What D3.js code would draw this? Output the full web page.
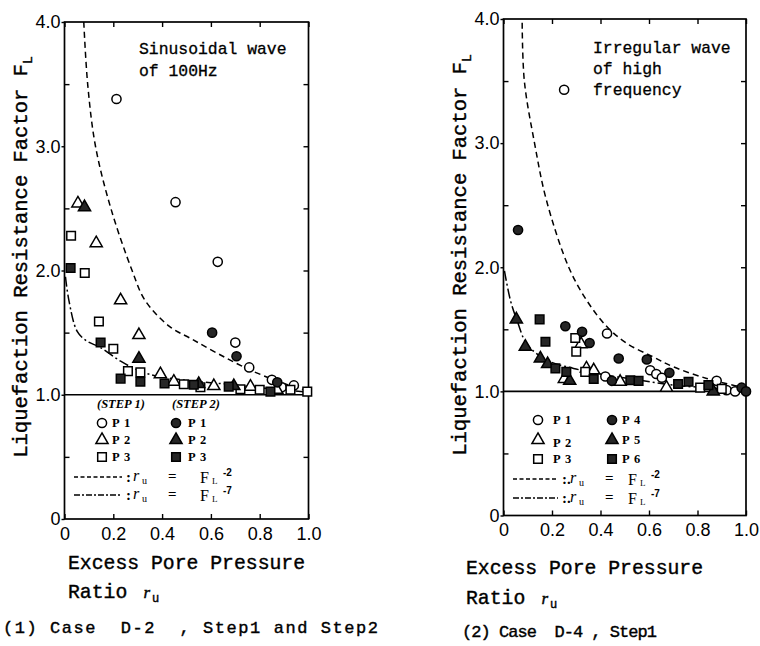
<!DOCTYPE html>
<html><head><meta charset="utf-8">
<script src="https://cdn.jsdelivr.net/npm/d3@7"></script>
<style>body{margin:0;background:#fff} svg{display:block}</style>
</head><body>
<svg id="chart" width="760" height="646"></svg>
<script>
// ---------- tick labels ----------
const xTicks = [0, 0.2, 0.4, 0.6, 0.8, 1.0];
const xTickLabels = ["0", "0.2", "0.4", "0.6", "0.8", "1.0"];
const yTicks = [0, 1, 2, 3, 4];
const yTickLabels = ["0", "1.0", "2.0", "3.0", "4.0"];
const yMinorTicks = [0.5, 1.5, 2.5, 3.5];

// ---------- Case D-2 (left) : [ru, FL] ----------
const d2Step1P1 = [[0.213,3.38],[0.455,2.55],[0.628,2.07],[0.70,1.42],[0.757,1.22],[0.85,1.12],[0.94,1.075],[0.89,1.06]];
const d2Step1P2 = [[0.055,2.54],[0.13,2.22],[0.23,1.76],[0.305,1.48],[0.393,1.165],[0.448,1.105],[0.612,1.07],[0.762,1.065],[0.87,1.04]];
const d2Step1P3 = [[0.027,2.28],[0.083,1.98],[0.141,1.59],[0.20,1.37],[0.26,1.19],[0.311,1.18],[0.489,1.085],[0.557,1.06],[0.721,1.044],[0.80,1.04],[0.926,1.04],[0.995,1.025]];
const d2Step2P1 = [[0.605,1.50],[0.705,1.31],[0.872,1.10]];
const d2Step2P2 = [[0.082,2.51],[0.305,1.29],[0.55,1.087],[0.694,1.07]];
const d2Step2P3 = [[0.025,2.02],[0.148,1.42],[0.23,1.13],[0.311,1.105],[0.41,1.09],[0.53,1.08],[0.673,1.065],[0.844,1.025]];
// drawn reference curves
const d2CurveFL2 = [[0.079,4.0],[0.095,3.5],[0.127,3.0],[0.19,2.5],[0.277,2.0],[0.33,1.76],[0.43,1.55],[0.52,1.45],[0.63,1.33],[0.76,1.2],[0.9,1.09],[1.0,1.03]];
const d2CurveFL7 = [[0.004,1.95],[0.018,1.76],[0.052,1.51],[0.093,1.43],[0.148,1.38],[0.23,1.27],[0.31,1.19],[0.393,1.145],[0.557,1.105],[0.693,1.08],[0.83,1.05],[0.98,1.025]];

// ---------- Case D-4 (right) ----------
const d4P1 = [[0.25,3.43],[0.427,1.466],[0.605,1.17],[0.63,1.14],[0.653,1.11],[0.42,1.12],[0.879,1.085],[0.92,1.01],[0.955,1.0]];
const d4P2 = [[0.251,1.10],[0.342,1.185],[0.372,1.17],[0.481,1.077],[0.672,1.03],[0.32,1.38]];
const d4P3 = [[0.296,1.43],[0.30,1.32],[0.337,1.157],[0.811,1.03],[0.90,1.02]];
const d4P4 = [[0.06,2.30],[0.255,1.525],[0.324,1.48],[0.355,1.39],[0.475,1.265],[0.591,1.257],[0.684,1.15],[0.447,1.085],[0.982,1.03],[1.0,1.0]];
const d4P5 = [[0.053,1.58],[0.09,1.36],[0.152,1.265],[0.182,1.22],[0.273,1.085],[0.865,1.0]];
const d4P6 = [[0.149,1.58],[0.173,1.40],[0.214,1.185],[0.259,1.157],[0.372,1.10],[0.523,1.09],[0.557,1.085],[0.72,1.06],[0.763,1.077],[0.845,1.05]];
const d4CurveFL2 = [[0.077,3.97],[0.086,3.5],[0.128,3.0],[0.177,2.54],[0.269,2.0],[0.344,1.73],[0.427,1.52],[0.509,1.386],[0.617,1.278],[0.70,1.198],[0.838,1.104],[0.947,1.05],[1.0,1.03]];
const d4CurveFL7 = [[0.004,1.97],[0.029,1.73],[0.056,1.57],[0.097,1.38],[0.18,1.25],[0.289,1.185],[0.427,1.13],[0.564,1.09],[0.70,1.05],[0.838,1.03],[0.975,1.015]];

// ---------- texts ----------
const yTitle = "Liquefaction Resistance Factor F";
const yTitleSub = "L";
const xTitle1 = "Excess Pore Pressure";
const xTitle2 = "Ratio ";
const d2Caption = "(1) Case  D-2  , Step1 and Step2";
const d4Caption = "(2) Case  D-4 , Step1";
const d2Note = ["Sinusoidal wave", "of 100Hz"];
const d4Note = ["Irregular wave", "of high", "frequency"];
const d2LegendHead = ["(STEP 1)", "(STEP 2)"];
const d2LegendOpen = ["P 1", "P 2", "P 3"];
const d2LegendFilled = ["P 1", "P 2", "P 3"];
const d4LegendOpen = ["P 1", "P 2", "P 3"];
const d4LegendFilled = ["P 4", "P 5", "P 6"];
const curveExponents = ["-2", "-7"];

const svg = d3.select("#chart");
const MONO = "'Liberation Mono','DejaVu Sans Mono',monospace";
const SERIF = "'Liberation Serif','DejaVu Serif',serif";
const SANS = "'Liberation Sans','DejaVu Sans',sans-serif";

const shapes = [d3.symbolCircle, d3.symbolTriangle, d3.symbolSquare];
const shapeSize = [66, 64, 74];

function drawSymbol(g, cx, cy, shapeIdx, filled) {
  g.append("path")
    .attr("d", d3.symbol().type(shapes[shapeIdx]).size(shapeSize[shapeIdx])())
    .attr("transform", `translate(${cx},${cy})`)
    .attr("fill", filled ? "#262626" : "#fff")
    .attr("stroke", "#000").attr("stroke-width", 1.5);
}

function panel(cfg) {
  const x = d3.scaleLinear().domain([0, 1]).range([cfg.x0, cfg.x1]);
  const y = d3.scaleLinear().domain([0, 4]).range([cfg.y0, cfg.y1]);
  const g = svg.append("g");
  const id = "clip" + cfg.id;
  svg.append("clipPath").attr("id", id).append("rect")
    .attr("x", x(0)).attr("y", y(4)).attr("width", x(1) - x(0)).attr("height", y(0) - y(4));

  // axes (inward ticks)
  const ax = g.append("g").attr("font-family", SANS);
  ax.append("g").attr("transform", `translate(0,${y(0)})`)
    .call(d3.axisBottom(x).tickValues(xTicks).tickSize(-5).tickPadding(8).tickFormat((d, i) => xTickLabels[i]));
  ax.append("g").attr("transform", `translate(0,${y(4)})`)
    .call(d3.axisTop(x).tickValues(xTicks).tickSize(-5).tickFormat(""));
  ax.append("g").attr("transform", `translate(${x(0)},0)`)
    .call(d3.axisLeft(y).tickValues(yMinorTicks).tickSize(-5).tickFormat(""));
  ax.append("g").attr("transform", `translate(${x(0)},0)`)
    .call(d3.axisLeft(y).tickValues(yTicks).tickSize(3).tickPadding(1).tickFormat((d, i) => yTickLabels[i]));
  ax.append("g").attr("transform", `translate(${x(1)},0)`)
    .call(d3.axisRight(y).tickValues(yMinorTicks.concat([1, 2, 3])).tickSize(-5).tickFormat(""));
  ax.selectAll(".domain").remove();
  ax.selectAll("line").attr("stroke", "#000").attr("stroke-width", 1.4);
  ax.selectAll("text").attr("font-size", 18).attr("fill", "#000").attr("font-family", SANS);

  // frame
  g.append("rect").attr("x", x(0)).attr("y", y(4)).attr("width", x(1) - x(0)).attr("height", y(0) - y(4))
    .attr("fill", "none").attr("stroke", "#000").attr("stroke-width", 1.7);
  // F_L = 1.0 line
  g.append("line").attr("x1", x(0)).attr("x2", x(1)).attr("y1", y(1)).attr("y2", y(1))
    .attr("stroke", "#000").attr("stroke-width", 1.6);

  // curves
  const line = d3.line().x(d => x(d[0])).y(d => y(d[1])).curve(d3.curveCatmullRom.alpha(0.5));
  const cg = g.append("g").attr("clip-path", `url(#${id})`);
  cg.append("path").datum(cfg.curve2).attr("d", line).attr("fill", "none")
    .attr("stroke", "#000").attr("stroke-width", 1.5).attr("stroke-dasharray", "6,4");
  cg.append("path").datum(cfg.curve7).attr("d", line).attr("fill", "none")
    .attr("stroke", "#000").attr("stroke-width", 1.5).attr("stroke-dasharray", "10,3,2,3");

  // points
  const pg = g.append("g");
  cfg.series.forEach(s => s.data.forEach(d => drawSymbol(pg, x(d[0]), y(d[1]), s.shape, s.filled)));

  // y title
  const yt = g.append("text").attr("transform", `translate(${cfg.yTitleX},${cfg.yTitleY}) rotate(-90)`)
    .attr("text-anchor", "middle").attr("font-family", MONO).attr("font-size", 20.5)
    .attr("stroke", "#000").attr("stroke-width", 0.4);
  yt.append("tspan").text(yTitle);
  yt.append("tspan").attr("font-size", 13).attr("dy", 5).text(yTitleSub);

  // x title
  const xt = g.append("g").attr("font-family", MONO).attr("stroke", "#000").attr("stroke-width", 0.4);
  xt.append("text").attr("x", cfg.xTitleX).attr("y", cfg.xTitleY1).attr("font-size", 19.75).text(xTitle1);
  const r = xt.append("text").attr("x", cfg.xTitleX).attr("y", cfg.xTitleY2).attr("font-size", 19.75).attr("xml:space", "preserve");
  r.append("tspan").text(xTitle2);
  r.append("tspan").attr("font-size", 17).attr("font-family", SERIF).attr("font-style", "italic").text(" r");
  r.append("tspan").attr("font-size", 12).attr("dy", 4).attr("dx", 2).text("u");
  // caption
  xt.append("text").attr("x", cfg.capX).attr("y", cfg.capY).attr("font-size", 17)
    .attr("xml:space", "preserve").attr("textLength", cfg.capW).attr("lengthAdjust", "spacing").text(cfg.caption);
  // note
  cfg.note.forEach((t, i) => xt.append("text").attr("x", cfg.noteX).attr("y", cfg.noteY + i * cfg.noteDy)
    .attr("font-size", 16.4).attr("stroke-width", 0.3).text(t));

  // legend
  const lg = g.append("g");
  if (cfg.head) {
    cfg.head.forEach((t, i) => lg.append("text").attr("x", cfg.headX[i]).attr("y", cfg.headY)
      .attr("font-family", SERIF).attr("font-weight", "bold").attr("font-style", "italic").attr("font-size", 12.5).text(t));
  }
  cfg.legOpen.forEach((t, i) => {
    const yy = cfg.legY[i];
    drawSymbol(lg, cfg.legSymX[0], yy, i, false);
    drawSymbol(lg, cfg.legSymX[1], yy, i, true);
    lg.append("text").attr("x", cfg.legTxtX[0]).attr("y", yy + 4 + (cfg.legDy ? cfg.legDy[i] : 0)).attr("font-family", SERIF)
      .attr("font-weight", "bold").attr("font-size", 12.5).attr("letter-spacing", 1).text(t);
    lg.append("text").attr("x", cfg.legTxtX[1]).attr("y", yy + 4).attr("font-family", SERIF)
      .attr("font-weight", "bold").attr("font-size", 12.5).attr("letter-spacing", 1).text(cfg.legFilled[i]);
  });
  [0, 1].forEach(k => {
    const yy = cfg.fY[k];
    lg.append("line").attr("x1", cfg.fLineX[0]).attr("x2", cfg.fLineX[1]).attr("y1", yy).attr("y2", yy)
      .attr("stroke", "#000").attr("stroke-width", 1.4).attr("stroke-dasharray", k === 0 ? "4,2.5" : "6,2,2,2");
    const o = cfg.fX;
    lg.append("text").attr("x", o[0]).attr("y", yy + 5).attr("font-family", SERIF).attr("font-weight", "bold").attr("font-size", 15).text(cfg.colon);
    lg.append("text").attr("x", o[1]).attr("y", yy + 4).attr("font-family", SERIF).attr("font-style", "italic").attr("font-size", 16).text("r");
    lg.append("text").attr("x", o[2]).attr("y", yy + 7).attr("font-family", SERIF).attr("font-size", 10).text("u");
    lg.append("text").attr("x", o[3]).attr("y", yy + 4).attr("font-family", SERIF).attr("font-weight", "bold").attr("font-size", 15).text("=");
    lg.append("text").attr("x", o[4]).attr("y", yy + 6).attr("font-family", SERIF).attr("font-size", 16).text("F");
    lg.append("text").attr("x", o[5]).attr("y", yy + 7).attr("font-family", SERIF).attr("font-size", 9).text("L");
    lg.append("text").attr("x", o[6]).attr("y", yy - 1).attr("font-family", SANS).attr("font-weight", "bold").attr("font-size", 10).text(curveExponents[k]);
  });
}

panel({
  id: "L", x0: 64.5, x1: 308.5, y0: 519, y1: 22,
  series: [
    {data: d2Step1P1, shape: 0, filled: false}, {data: d2Step1P2, shape: 1, filled: false}, {data: d2Step1P3, shape: 2, filled: false},
    {data: d2Step2P1, shape: 0, filled: true}, {data: d2Step2P2, shape: 1, filled: true}, {data: d2Step2P3, shape: 2, filled: true}
  ],
  curve2: d2CurveFL2, curve7: d2CurveFL7,
  yTitleX: 27, yTitleY: 257,
  xTitleX: 68, xTitleY1: 569, xTitleY2: 598,
  caption: d2Caption, capX: 3, capY: 633, capW: 375,
  note: d2Note, noteX: 139, noteY: 54, noteDy: 22,
  head: d2LegendHead, headX: [97, 172], headY: 408,
  legOpen: d2LegendOpen, legFilled: d2LegendFilled, legY: [423, 440, 457], legSymX: [102, 176], legTxtX: [112, 188],
  fY: [477, 495], fLineX: [74, 122], colon: ":", fX: [126, 133, 142, 168, 200, 212, 223]
});

panel({
  id: "R", x0: 503.5, x1: 746, y0: 515.5, y1: 19,
  series: [
    {data: d4P1, shape: 0, filled: false}, {data: d4P2, shape: 1, filled: false}, {data: d4P3, shape: 2, filled: false},
    {data: d4P4, shape: 0, filled: true}, {data: d4P5, shape: 1, filled: true}, {data: d4P6, shape: 2, filled: true}
  ],
  curve2: d4CurveFL2, curve7: d4CurveFL7,
  yTitleX: 466, yTitleY: 255,
  xTitleX: 466, xTitleY1: 574, xTitleY2: 604,
  caption: d4Caption, capX: 462, capY: 637, capW: 195,
  note: d4Note, noteX: 593, noteY: 53, noteDy: 21,
  head: null,
  legOpen: d4LegendOpen, legFilled: d4LegendFilled, legY: [420, 440, 459], legSymX: [538, 612], legTxtX: [553, 622], legDy: [0, 3, 0],
  fY: [479, 498], fLineX: [513, 558], colon: ":.", fX: [562, 570, 579, 605, 628, 640, 651]
});
</script>
</body></html>
